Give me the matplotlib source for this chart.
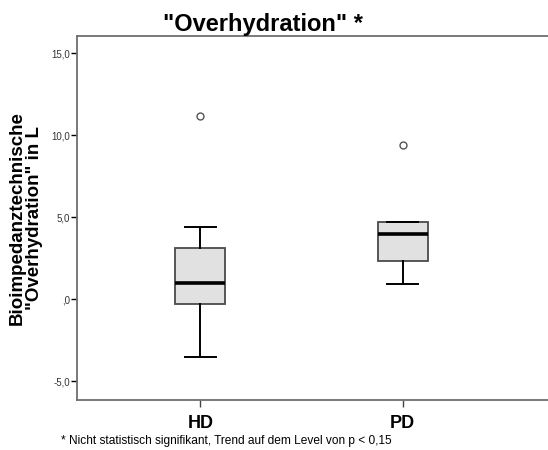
import matplotlib.pyplot as plt

plt.rcParams['font.family'] = ['Liberation Sans', 'DejaVu Sans']

# Kennwerte der Boxplots (Liter)
gruppen = ['HD', 'PD']
whisker_unten = [-3.5, 0.9]
q1 = [-0.3, 2.3]
median = [1.0, 4.0]
q3 = [3.1, 4.7]
whisker_oben = [4.4, 4.7]
ausreisser = [[11.2], [9.4]]

yticks = [-5, 0, 5, 10, 15]
ytick_labels = ['-5,0', ',0', '5,0', '10,0', '15,0']

stats = []
for i, g in enumerate(gruppen):
    stats.append({
        'label': g,
        'whislo': whisker_unten[i],
        'q1': q1[i],
        'med': median[i],
        'q3': q3[i],
        'whishi': whisker_oben[i],
        'fliers': ausreisser[i],
    })

fig = plt.figure(figsize=(5.48, 4.5), dpi=100)
ax = fig.add_axes([0.1405, 0.111, 0.8595, 0.809])

ax.bxp(stats, positions=[1, 2], widths=0.2475, patch_artist=True,
       boxprops=dict(facecolor='#e1e1e1', edgecolor='#4a4a4a', linewidth=1.3),
       medianprops=dict(color='black', linewidth=2.6),
       whiskerprops=dict(color='black', linewidth=1.4),
       capprops=dict(color='black', linewidth=1.4),
       capwidths=0.15,
       flierprops=dict(marker='o', markersize=5, markerfacecolor='white',
                       markeredgecolor='#555555', markeredgewidth=1.0))

ax.set_xlim(0.389, 2.72)
ax.set_ylim(-6.15, 16.05)

ax.set_yticks(yticks)
ax.set_yticklabels(ytick_labels, fontsize=7, color='#333333')
ax.set_xticks([1, 2])
ax.set_xticklabels(gruppen, fontsize=13, fontweight='bold')
ax.tick_params(axis='y', length=4, width=1, color='black', pad=1)
ax.tick_params(axis='x', length=5, width=1, color='#444444', pad=6)

for s in ['left', 'bottom', 'top']:
    ax.spines[s].set_color('#6e6e6e')
    ax.spines[s].set_linewidth(1.3)
ax.spines['right'].set_visible(False)

ax.set_ylabel('Bioimpedanztechnische\n"Overhydration" in L', fontsize=13.5,
              fontweight='bold', labelpad=6, linespacing=1.05)
ax.set_title('"Overhydration" *', fontsize=17, fontweight='bold', pad=3,
             x=(263 - 77) / 471)

fig.text(226 / 548, 1 - 441 / 450,
         '* Nicht statistisch signifikant, Trend auf dem Level von p < 0,15',
         ha='center', va='center', fontsize=8.6)

fig.savefig('out.png', dpi=100)
